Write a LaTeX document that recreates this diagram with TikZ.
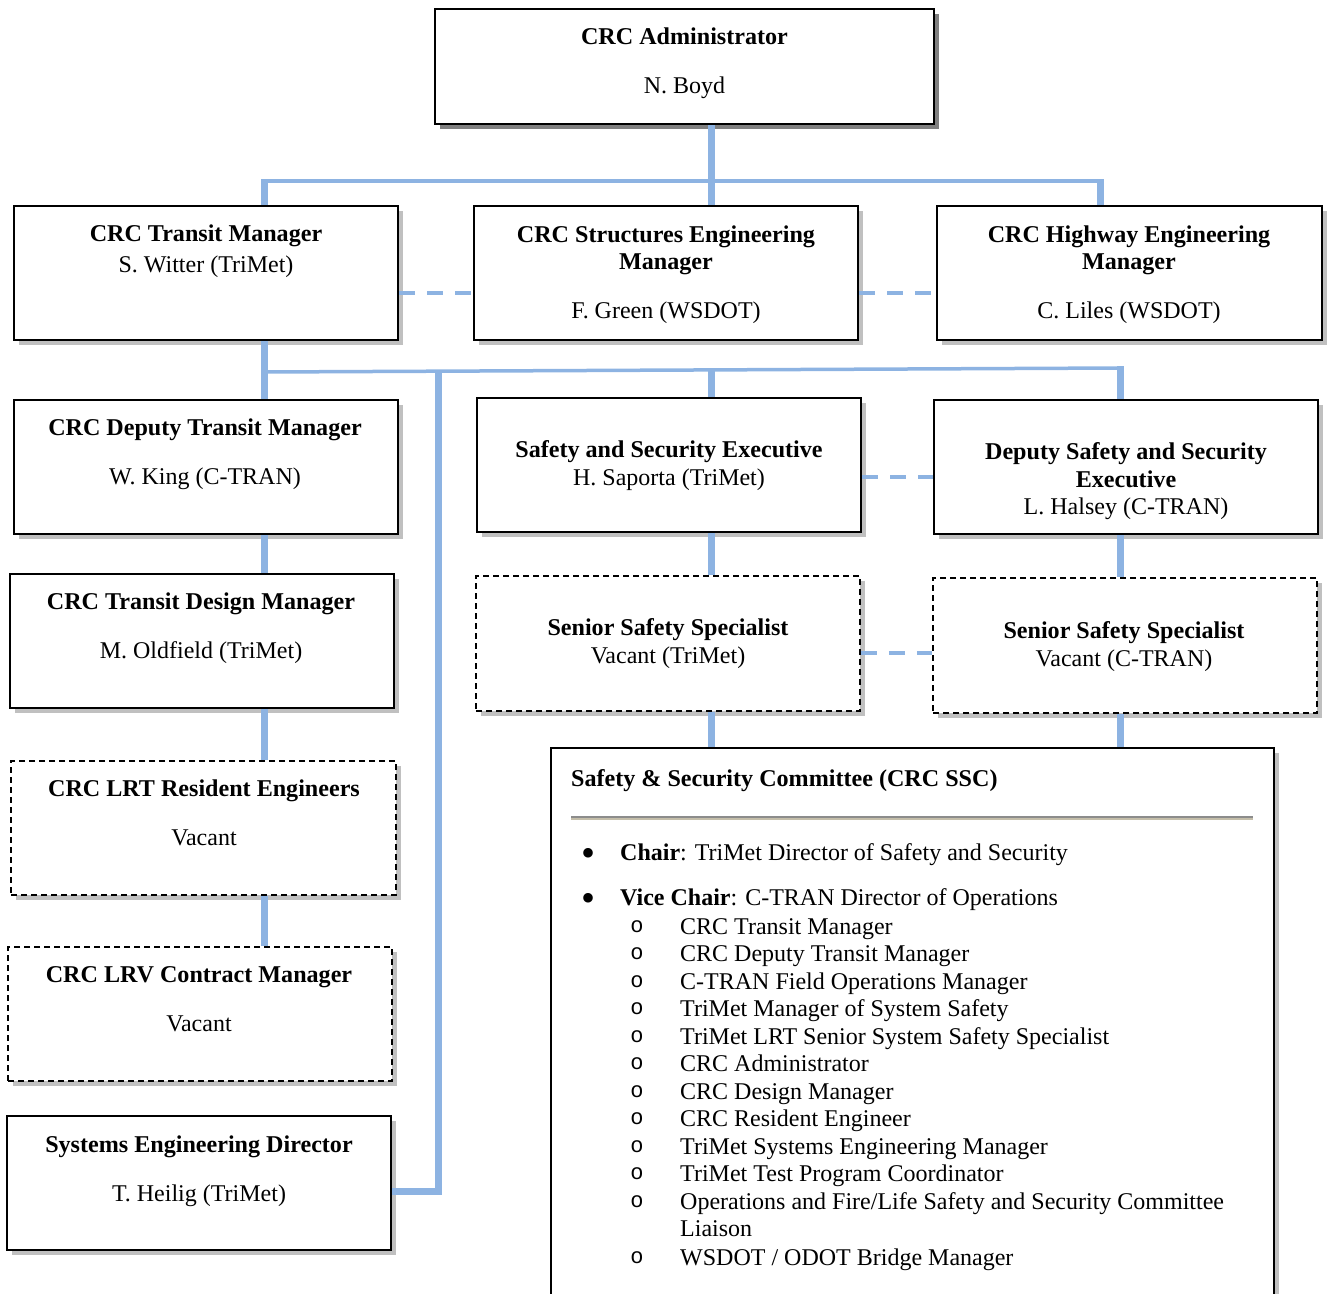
\documentclass[tikz,border=0pt]{standalone}
\usepackage{fontspec}
\setmainfont{Liberation Serif}
\setmonofont{Liberation Mono}
\usetikzlibrary{shadows,calc}
\definecolor{conblue}{RGB}{141,179,226}
\definecolor{shadowgray}{RGB}{192,192,192}
\definecolor{rulegrayA}{RGB}{140,140,140}
\definecolor{rulegrayB}{RGB}{196,190,170}
\tikzset{
  box/.style={draw=black, line width=2.2pt, fill=white, rectangle, inner sep=0pt,
    drop shadow={shadow xshift=5pt, shadow yshift=-5pt, fill=shadowgray, opacity=1}},
  darkbox/.style={draw=black, line width=2.2pt, fill=white, rectangle, inner sep=0pt,
    drop shadow={shadow xshift=5pt, shadow yshift=-5pt, fill=black!50, opacity=1}},
  dbox/.style={box, dash pattern=on 6pt off 4pt, line width=1.8pt},
  ttl/.style={anchor=base, inner sep=0pt, font=\fontsize{24.1}{28}\selectfont\bfseries},
  nm/.style={anchor=base, inner sep=0pt, font=\fontsize{24}{28}\selectfont},
  lt/.style={anchor=base west, inner sep=0pt, font=\fontsize{24}{28}\selectfont},
  bul/.style={anchor=center, inner sep=0pt, font=\fontsize{40}{40}\selectfont},
  subbul/.style={anchor=center, inner sep=0pt, font=\fontsize{22}{24}\selectfont\ttfamily},
  thickcon/.style={draw=conblue, line width=7pt},
  thincon/.style={draw=conblue, line width=3.5pt},
  dashcon/.style={draw=conblue, line width=4pt, dash pattern=on 16pt off 12pt},
}
\begin{document}
\begin{tikzpicture}[x=1pt, y=-1pt]
\useasboundingbox (0,0) rectangle (1329,1293);
\clip (0,0) rectangle (1329,1293);

% boxes
\node[darkbox, minimum width=499pt, minimum height=115pt] (adm) at (684.5,66.5) {};
\node[box, minimum width=384pt, minimum height=134pt] (tm) at (206,273) {};
\node[box, minimum width=384pt, minimum height=134pt] (se) at (666,273) {};
\node[box, minimum width=385pt, minimum height=134pt] (hw) at (1129.5,273) {};
\node[box, minimum width=384pt, minimum height=134pt] (dtm) at (206,467) {};
\node[box, minimum width=384pt, minimum height=134pt] (sse) at (669,465) {};
\node[box, minimum width=384pt, minimum height=134pt] (dsse) at (1126,467) {};
\node[box, minimum width=384pt, minimum height=134pt] (tdm) at (202,641) {};
\node[dbox, minimum width=384pt, minimum height=135pt] (ss1) at (668,643.5) {};
\node[dbox, minimum width=384pt, minimum height=135pt] (ss2) at (1125,645.5) {};
\node[dbox, minimum width=385pt, minimum height=134pt] (lrt) at (203.5,828) {};
\node[dbox, minimum width=384pt, minimum height=134pt] (lrv) at (200,1014) {};
\node[box, minimum width=384pt, minimum height=134pt] (sed) at (199,1183) {};
\node[box, minimum width=723pt, minimum height=580pt] (com) at (912.5,1038) {};

% box texts
\node[ttl] (adm-t) at (684.5,44) {CRC Administrator};
\node[nm] (adm-n) at (684.5,93) {N. Boyd};
\node[ttl] (tm-t) at (206,241) {CRC Transit Manager};
\node[nm] (tm-n) at (206,272) {S. Witter (TriMet)};
\node[ttl] (se-t1) at (666,242) {CRC Structures Engineering};
\node[ttl] (se-t2) at (666,269) {Manager};
\node[nm] (se-n) at (666,318) {F. Green (WSDOT)};
\node[ttl] (hw-t1) at (1129,242) {CRC Highway Engineering};
\node[ttl] (hw-t2) at (1129,269) {Manager};
\node[nm] (hw-n) at (1129,318) {C. Liles (WSDOT)};
\node[ttl] (dtm-t) at (205,435) {CRC Deputy Transit Manager};
\node[nm] (dtm-n) at (205,484) {W. King (C-TRAN)};
\node[ttl] (sse-t) at (669,457) {Safety and Security Executive};
\node[nm] (sse-n) at (669,485) {H. Saporta (TriMet)};
\node[ttl] (dsse-t1) at (1126,459) {Deputy Safety and Security};
\node[ttl] (dsse-t2) at (1126,487) {Executive};
\node[nm] (dsse-n) at (1126,514) {L. Halsey (C-TRAN)};
\node[ttl] (tdm-t) at (201,609) {CRC Transit Design Manager};
\node[nm] (tdm-n) at (201,658) {M. Oldfield (TriMet)};
\node[ttl] (ss1-t) at (668,635) {Senior Safety Specialist};
\node[nm] (ss1-n) at (668,663) {Vacant (TriMet)};
\node[ttl] (ss2-t) at (1124,638) {Senior Safety Specialist};
\node[nm] (ss2-n) at (1124,666) {Vacant (C-TRAN)};
\node[ttl] (lrt-t) at (204,796) {CRC LRT Resident Engineers};
\node[nm] (lrt-n) at (204,845) {Vacant};
\node[ttl] (lrv-t) at (199,982) {CRC LRV Contract Manager};
\node[nm] (lrv-n) at (199,1031) {Vacant};
\node[ttl] (sed-t) at (199,1152) {Systems Engineering Director};
\node[nm] (sed-n) at (199,1201) {T. Heilig (TriMet)};

% committee contents
\node[lt, font=\fontsize{24.1}{28}\selectfont\bfseries] (com-t) at (571,786) {Safety \& Security Committee (CRC SSC)};
\draw[rulegrayA, line width=2pt] (571,817) -- (1253,817);
\draw[rulegrayB, line width=2pt] (571,819) -- (1253,819);
\node[bul] (b1) at (588,857) {•};
\node[lt] (b1-t) at (620,860) {\textbf{Chair}: TriMet Director of Safety and Security};
\node[bul] (b2) at (588,902) {•};
\node[lt] (b2-t) at (620,905) {\textbf{Vice Chair}: C-TRAN Director of Operations};
\foreach \yy/\txt [count=\i] in {926/{CRC Transit Manager}, 953/{CRC Deputy Transit Manager}, 981/{C-TRAN Field Operations Manager}, 1008/{TriMet Manager of System Safety}, 1036/{TriMet LRT Senior System Safety Specialist}, 1063/{CRC Administrator}, 1091/{CRC Design Manager}, 1118/{CRC Resident Engineer}, 1146/{TriMet Systems Engineering Manager}, 1173/{TriMet Test Program Coordinator}, 1201/{Operations and Fire/Life Safety and Security Committee}, 1257/{WSDOT / ODOT Bridge Manager}} {
  \node[subbul] (o\i) at (637,\yy+1) {o};
  \node[lt] (s\i) at (680,\yy+8) {\txt};
}
\node[lt] (s11b) at (680,1236) {Liaison};

% junction coordinates
\coordinate (j1) at (711,181);
\coordinate (jl) at (264,181);
\coordinate (jr) at (1100,181);
\coordinate (tx) at (264,372);
\coordinate (j2) at (711,370);
\coordinate (j3) at (1120,368);
\coordinate (j4) at (438,371);

% connectors
\draw[thickcon] (adm.south -| j1) -- (se.north -| j1);
\draw[thincon] (jl) -- (jr);
\draw[thickcon] ([yshift=1.75pt]jl) -- (tm.north -| jl);
\draw[thickcon] ([yshift=1.75pt]jr) -- (hw.north -| jr);

\draw[thickcon] (tm.south -| tx) -- (dtm.north -| tx);
\draw[thickcon] (dtm.south -| tx) -- (tdm.north -| tx);
\draw[thickcon] (tdm.south -| tx) -- (lrt.north -| tx);
\draw[thickcon] (lrt.south -| tx) -- (lrv.north -| tx);

\draw[thincon] (tx) -- (j3);
\draw[thickcon] (j2) -- (sse.north -| j2);
\draw[thickcon] ([yshift=1.75pt]j3) -- (dsse.north -| j3);
\draw[thickcon, line join=miter] (j4) |- ([yshift=-8pt]sed.east);

\draw[thickcon] (sse.south -| j2) -- (ss1.north -| j2);
\draw[thickcon] (ss1.south -| j2) -- (com.north -| j2);
\draw[thickcon] (dsse.south -| j3) -- (ss2.north -| j3);
\draw[thickcon] (ss2.south -| j3) -- (com.north -| j3);

\draw[dashcon] ([yshift=-20pt]tm.east) -- ([yshift=-20pt]tm.east -| se.west);
\draw[dashcon] ([yshift=-20pt]se.east) -- ([yshift=-20pt]se.east -| hw.west);
\draw[dashcon] ([yshift=-12pt]sse.east) -- ([yshift=-12pt]sse.east -| dsse.west);
\draw[dashcon] ([yshift=-9.5pt]ss1.east) -- ([yshift=-9.5pt]ss1.east -| ss2.west);
\end{tikzpicture}
\end{document}
